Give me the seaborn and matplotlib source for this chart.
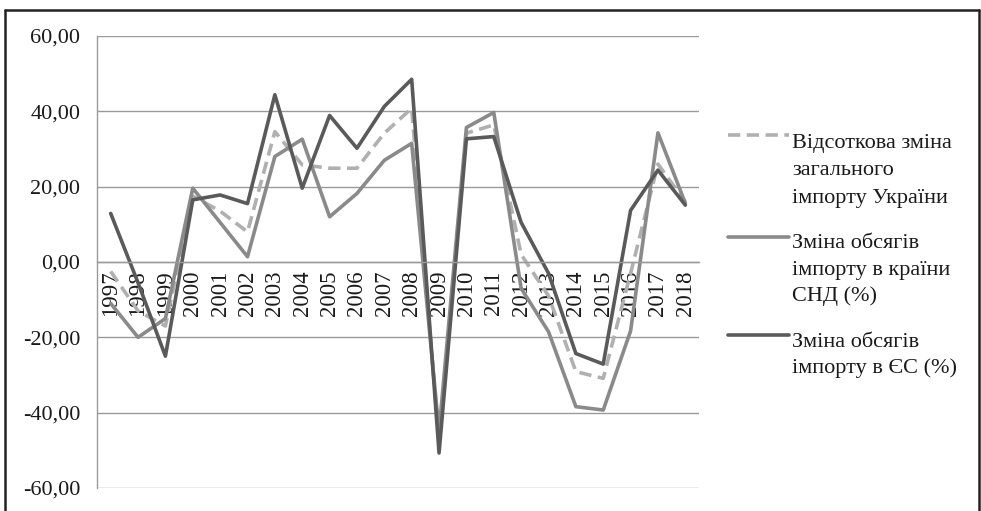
import matplotlib
matplotlib.use("Agg")
import matplotlib.pyplot as plt
from matplotlib.lines import Line2D
from matplotlib.ticker import FuncFormatter, FixedLocator
import seaborn as sns
import numpy as np

years = [str(y) for y in range(1997, 2019)]
total = [-2.5, -13, -17, 17.5, 13.5, 8, 34.6, 25.8, 24.9, 24.9, 34.2, 40.8,
         -48, 34.2, 36.4, 2, -9, -29.1, -30.9, -3, 26, 16]
cis = [-11, -20, -15, 19.6, 10.5, 1.4, 28, 32.6, 12, 18.2, 27, 31.5,
       -45, 35.7, 39.7, -7, -18.5, -38.4, -39.3, -18.3, 34.3, 15.6]
eu = [12.9, -5.5, -25, 16.5, 17.8, 15.5, 44.4, 19.6, 38.9, 30.2, 41.3, 48.5,
      -50.7, 32.7, 33.3, 10.5, -3, -24.3, -27.1, 13.7, 24.4, 15.1]
legend_labels = [
    ["Відсоткова зміна", "загального", "імпорту України"],
    ["Зміна обсягів", "імпорту в країни", "СНД (%)"],
    ["Зміна обсягів", "імпорту в ЄС (%)"],
]
yticks = [-60, -40, -20, 0, 20, 40, 60]

sns.set_style("white")
plt.rcParams['font.family'] = ['Liberation Serif', 'DejaVu Serif']

W, H = 981, 511
fig = plt.figure(figsize=(W / 100, H / 100), dpi=100)
ax = fig.add_axes([97 / W, 1 - 488 / H, (699 - 97) / W, (488 - 36) / H])

c_total, c_cis, c_eu = "#b0b0b0", "#8a8a8a", "#5a5a5a"
lw = 2.6
idx = np.arange(len(years))
sns.lineplot(x=idx, y=total, color=c_total, linewidth=lw, ax=ax)
ax.lines[-1].set_dashes((3.4, 1.8))
sns.lineplot(x=idx, y=cis, color=c_cis, linewidth=lw, ax=ax)
sns.lineplot(x=idx, y=eu, color=c_eu, linewidth=lw, ax=ax)

ax.set_xlim(-0.5, len(years) - 0.5)
ax.set_ylim(-60, 60)
ax.set_yticks(yticks)
ax.yaxis.set_major_formatter(FuncFormatter(lambda v, p: f"{v:.2f}".replace(".", ",")))
ax.grid(axis="y", color="#9a9a9a", linewidth=1.0)
ax.set_axisbelow(True)

for s in ["top", "right"]:
    ax.spines[s].set_visible(False)
ax.spines["left"].set_color("#9a9a9a")
ax.spines["left"].set_linewidth(1.0)
ax.spines["bottom"].set_position(("data", 0))
ax.spines["bottom"].set_color("#9a9a9a")
ax.spines["bottom"].set_linewidth(1.0)

ax.set_xticks(idx)
ax.set_xticklabels(years, rotation=90, fontsize=16.5, color="#1a1a1a", va="top")
ax.xaxis.set_minor_locator(FixedLocator(np.arange(-0.5, len(years), 1.0)))
ax.tick_params(axis="x", which="major", length=0, pad=6)
ax.tick_params(axis="x", which="minor", length=5, width=1.0, color="#9a9a9a", direction="out")
ax.tick_params(axis="y", length=5, width=1.0, color="#9a9a9a", direction="out", pad=7,
               labelsize=16, labelcolor="#1a1a1a")
ax.set_xlabel("")
ax.set_ylabel("")

# legend (handles aligned with first text line)
handle_y = [135, 237, 335]
base_y = [[148, 175, 203], [248, 275, 301], [347, 373]]
styles = [(c_total, (3.4, 1.8)), (c_cis, None), (c_eu, None)]
for (col, dash), hy, lines, bys in zip(styles, handle_y, legend_labels, base_y):
    ln = Line2D([728 / W, 789 / W], [1 - hy / H, 1 - hy / H], transform=fig.transFigure,
                color=col, linewidth=lw)
    if dash:
        ln.set_dashes(dash)
    fig.add_artist(ln)
    for t, by in zip(lines, bys):
        fig.text(792 / W, 1 - by / H, t, fontsize=16, va="baseline", ha="left", color="#1a1a1a")

# outer frame
for xs, ys in [([5, 5], [10, 520]), ([5, 979], [10, 10]), ([979, 979], [10, 520])]:
    fig.add_artist(Line2D([x / W for x in xs], [1 - y / H for y in ys],
                          transform=fig.transFigure, color="#222222", linewidth=1.8))

fig.savefig("out.png", dpi=100)
